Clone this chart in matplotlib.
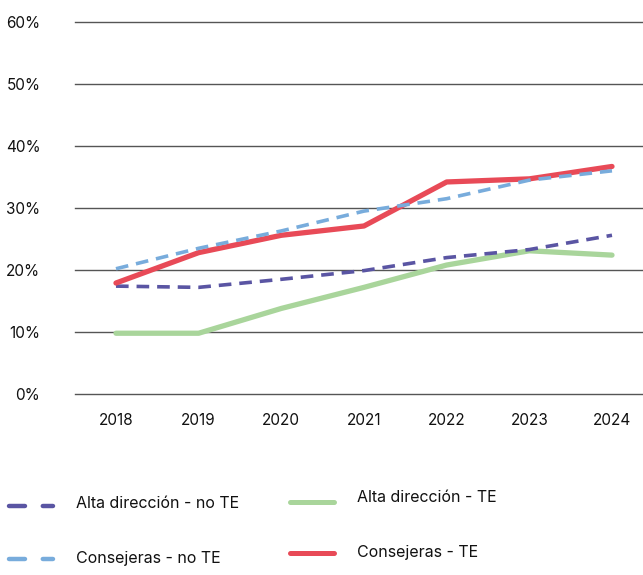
import matplotlib.pyplot as plt
from matplotlib.lines import Line2D

years = ["2018", "2019", "2020", "2021", "2022", "2023", "2024"]
alta_no_te = [17.4, 17.2, 18.5, 19.9, 22.0, 23.3, 25.6]
consejeras_no_te = [20.2, 23.5, 26.3, 29.5, 31.5, 34.5, 36.0]
alta_te = [9.8, 9.8, 13.8, 17.2, 20.8, 23.1, 22.4]
consejeras_te = [17.9, 22.8, 25.6, 27.1, 34.2, 34.7, 36.7]
yticks = [0, 10, 20, 30, 40, 50, 60]

PURPLE = "#5A55A3"
LBLUE = "#78ACDC"
GREEN = "#A9D59B"
RED = "#E84A57"

plt.rcParams['font.family'] = ['Inter', 'DejaVu Sans']

fig = plt.figure(figsize=(6.43, 5.75), dpi=100)
ax = fig.add_axes([0.1166, 0.3148, 0.8834, 0.6469])

x = list(range(len(years)))
ax.plot(x, alta_te, color=GREEN, lw=3.8, solid_capstyle='round', zorder=3)
ax.plot(x, alta_no_te, color=PURPLE, lw=2.6, dashes=(3.5, 2.2), zorder=4)
ax.plot(x, consejeras_te, color=RED, lw=3.8, solid_capstyle='round', zorder=5)
ax.plot(x, consejeras_no_te, color=LBLUE, lw=2.6, dashes=(3.5, 2.2), zorder=6)

ax.set_xlim(-0.496, 6.375)
ax.set_ylim(0, 60)
ax.set_yticks(yticks)
ax.set_yticklabels([f"{v}%" for v in yticks])
ax.set_xticks(x)
ax.set_xticklabels(years)
ax.yaxis.grid(True, color="#555555", lw=1.0)
for gl in ax.get_ygridlines():
    gl.set_clip_on(False)
ax.set_axisbelow(True)
for s in ax.spines.values():
    s.set_visible(False)
ax.tick_params(length=0, labelsize=11, colors="#111111")
ax.tick_params(axis='y', pad=25)
ax.tick_params(axis='x', pad=14)

# legend, drawn by hand in figure pixels
W, H = 643, 575
def leg(x0, y0, color, dashed, label, ty):
    kw = dict(color=color, lw=3.2 if dashed else 3.6, solid_capstyle='round',
              dash_capstyle='round', transform=fig.transFigure)
    if dashed:
        kw['dashes'] = (3.6, 4.0)
    fig.add_artist(Line2D([x0 / W, (x0 + 44) / W], [1 - y0 / H, 1 - y0 / H], **kw))
    fig.text((x0 + 67) / W, 1 - ty / H, label, fontsize=11.5, va='center', ha='left',
             color="#111111")

leg(9, 506, PURPLE, True, "Alta dirección - no TE", 504)
leg(9, 559, LBLUE, True, "Consejeras - no TE", 558)
leg(290, 502, GREEN, False, "Alta dirección - TE", 498)
leg(290, 553, RED, False, "Consejeras - TE", 553)

fig.savefig("out.png", dpi=100)
